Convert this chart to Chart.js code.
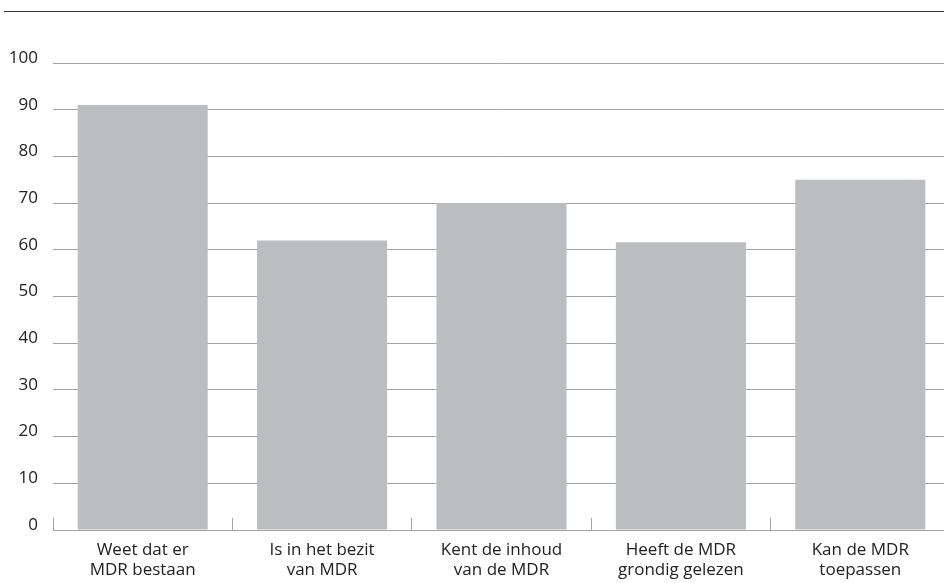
<!DOCTYPE html>
<html>
<head>
<meta charset="utf-8">
<script src="https://cdn.jsdelivr.net/npm/chart.js@4.4.1/dist/chart.umd.min.js"></script>
<style>
  html, body { margin: 0; padding: 0; background: #fff; overflow: hidden; }
  #wrap { position: relative; width: 944px; height: 583px; overflow: hidden; }
  #rule { position: absolute; left: 4px; right: 0; top: 11px; border-top: 1.5px solid #3a3a3a; }
  #box { position: absolute; left: 0; top: 0; width: 950px; height: 583px; }
</style>
</head>
<body>
<div id="wrap">
  <div id="rule"></div>
  <div id="box"><canvas id="my__bar_chart"></canvas></div>
</div>
<script>
const categories = [
  ['Weet dat er', 'MDR bestaan'],
  ['Is in het bezit', 'van MDR'],
  ['Kent de inhoud', 'van de MDR'],
  ['Heeft de MDR', 'grondig gelezen'],
  ['Kan de MDR', 'toepassen']
]
const percentages = [91, 62, 70, 61.6, 75]
const yTicks = [0, 10, 20, 30, 40, 50, 60, 70, 80, 90, 100]

const font = {family: "'Open Sans', sans-serif", size: 17}

const ctx = document.getElementById('my__bar_chart').getContext('2d')
const myChart = new Chart(ctx, {
  type: 'bar',
  data: {
    labels: categories,
    datasets: [{
      data: percentages,
      backgroundColor: '#bcbdc0',
      borderWidth: 0,
      barPercentage: 0.725,
      categoryPercentage: 1
    }]
  },
  options: {
    responsive: true,
    maintainAspectRatio: false,
    animation: false,
    layout: {padding: {top: 63, left: 0, right: 0, bottom: 0}},
    plugins: {legend: {display: false}, tooltip: {enabled: false}},
    scales: {
      x: {
        offset: true,
        grid: {
          display: true,
          drawOnChartArea: false,
          drawTicks: true,
          tickLength: -12,
          tickColor: '#a3a3a3',
          lineWidth: 1
        },
        border: {display: false},
        ticks: {color: '#222', font: font, padding: 22, maxRotation: 0, autoSkip: false},
        afterFit: (scale) => { scale.height = 53 }
      },
      y: {
        min: 0,
        max: 100,
        afterBuildTicks: (scale) => { scale.ticks = yTicks.map(v => ({value: v})) },
        grid: {color: '#a3a3a3', lineWidth: 1, drawTicks: false},
        border: {display: false},
        ticks: {color: '#222', font: font, padding: 15, labelOffset: -5},
        afterFit: (scale) => { scale.width = 53 }
      }
    }
  }
})
</script>
</body>
</html>
